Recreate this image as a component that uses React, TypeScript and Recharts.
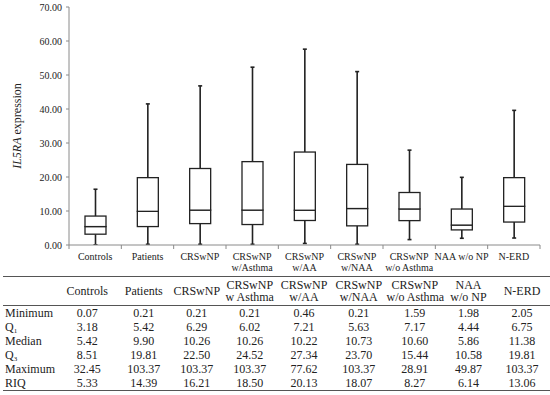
import React from "react";
import { ComposedChart, Bar, XAxis, YAxis, Label } from "recharts";

const groups = [
  "Controls",
  "Patients",
  "CRSwNP",
  "CRSwNP\nw/Asthma",
  "CRSwNP\nw/AA",
  "CRSwNP\nw/NAA",
  "CRSwNP\nw/o Asthma",
  "NAA w/o NP",
  "N-ERD",
];
const tableHeaders = [
  "Controls",
  "Patients",
  "CRSwNP",
  "CRSwNP\nw Asthma",
  "CRSwNP\nw/AA",
  "CRSwNP\nw/NAA",
  "CRSwNP\nw/o Asthma",
  "NAA\nw/o NP",
  "N-ERD",
];

const minimum = [0.07, 0.21, 0.21, 0.21, 0.46, 0.21, 1.59, 1.98, 2.05];
const q1 = [3.18, 5.42, 6.29, 6.02, 7.21, 5.63, 7.17, 4.44, 6.75];
const median = [5.42, 9.9, 10.26, 10.26, 10.22, 10.73, 10.6, 5.86, 11.38];
const q3 = [8.51, 19.81, 22.5, 24.52, 27.34, 23.7, 15.44, 10.58, 19.81];
const maximum = [32.45, 103.37, 103.37, 103.37, 77.62, 103.37, 28.91, 49.87, 103.37];
const riq = [5.33, 14.39, 16.21, 18.5, 20.13, 18.07, 8.27, 6.14, 13.06];
// upper whisker ends as drawn in the plot
const whiskerTop = [16.4, 41.5, 46.8, 52.3, 57.6, 51.0, 27.9, 19.9, 39.6];

const yTicks = [0, 10, 20, 30, 40, 50, 60, 70];

const INK = "#222";
const AXIS = "#8a8a8a";
const SERIF = "'Liberation Serif', 'Times New Roman', serif";

const data = groups.map((name, i) => ({
  name,
  base: minimum[i],
  lowW: q1[i] - minimum[i],
  boxLo: median[i] - q1[i],
  boxHi: q3[i] - median[i],
  highW: whiskerTop[i] - q3[i],
}));

const subStyle: React.CSSProperties = { fontSize: 7, position: "relative", top: 2, lineHeight: 0 };

const tableRows: { label: React.ReactNode; values: number[] }[] = [
  { label: "Minimum", values: minimum },
  { label: <>Q<span style={subStyle}>1</span></>, values: q1 },
  { label: "Median", values: median },
  { label: <>Q<span style={subStyle}>3</span></>, values: q3 },
  { label: "Maximum", values: maximum },
  { label: "RIQ", values: riq },
];

const CHART_W = 550;
const PLOT_LEFT = 69;
const PLOT_RIGHT = 10;
const BAND = (CHART_W - PLOT_LEFT - PLOT_RIGHT) / groups.length;

function span(p: any) {
  const top = Math.min(p.y, p.y + p.height);
  const bot = Math.max(p.y, p.y + p.height);
  return { cx: p.x + p.width / 2, top, bot };
}

function LowWhisker(p: any) {
  const { cx, top, bot } = span(p);
  return (
    <g>
      <line x1={cx} x2={cx} y1={top} y2={bot} stroke={INK} strokeWidth={1.6} />
      <line x1={cx - 2} x2={cx + 2} y1={bot} y2={bot} stroke={INK} strokeWidth={1.6} />
    </g>
  );
}

function HighWhisker(p: any) {
  const { cx, top, bot } = span(p);
  return (
    <g>
      <line x1={cx} x2={cx} y1={top} y2={bot} stroke={INK} strokeWidth={1.6} />
      <line x1={cx - 2} x2={cx + 2} y1={top} y2={top} stroke={INK} strokeWidth={1.6} />
    </g>
  );
}

function BoxPart(p: any) {
  const { top, bot } = span(p);
  return (
    <rect
      x={p.x}
      y={top}
      width={p.width}
      height={bot - top}
      fill="#fff"
      stroke={INK}
      strokeWidth={1.3}
    />
  );
}

function GroupTick(props: any) {
  const { x, y, payload, index } = props;
  const lines = String(payload.value).split("\n");
  const left = x - BAND / 2;
  const right = x + BAND / 2;
  return (
    <g>
      <line x1={left} x2={left} y1={y} y2={y + 4} stroke={AXIS} />
      {index === groups.length - 1 && (
        <line x1={right} x2={right} y1={y} y2={y + 4} stroke={AXIS} />
      )}
      <text x={x} y={y + 15} textAnchor="middle" fontSize={10} fontFamily={SERIF} fill={INK}>
        {lines.map((l, i) => (
          <tspan key={i} x={x} dy={i === 0 ? 0 : 10.5}>
            {l}
          </tspan>
        ))}
      </text>
    </g>
  );
}

function Table() {
  const widths = [55, 58.5, 54.5, 51.5, 54.5, 54, 55.5, 56.5, 51, 56];
  const cell: React.CSSProperties = {
    padding: 0,
    textAlign: "center",
    whiteSpace: "nowrap",
    overflow: "visible",
  };
  const rowCell: React.CSSProperties = { ...cell, height: 14, lineHeight: "14px" };
  return (
    <table
      style={{
        position: "absolute",
        left: 3,
        top: 276,
        width: 547,
        borderCollapse: "collapse",
        borderSpacing: 0,
        tableLayout: "fixed",
        fontFamily: SERIF,
        fontSize: 12,
        color: INK,
        borderTop: "1.5px solid #555",
        borderBottom: "1px solid #555",
      }}
    >
      <colgroup>
        {widths.map((w, i) => (
          <col key={i} style={{ width: w }} />
        ))}
      </colgroup>
      <thead>
        <tr style={{ borderBottom: "1px solid #555" }}>
          <th style={{ ...cell, height: 28 }}></th>
          {tableHeaders.map((h, i) => (
            <th
              key={i}
              style={{ ...cell, height: 28, fontWeight: "normal", lineHeight: "12.5px" }}
            >
              {h.split("\n").map((l, j) => (
                <div key={j}>{l}</div>
              ))}
            </th>
          ))}
        </tr>
      </thead>
      <tbody>
        {tableRows.map((r, i) => (
          <tr key={i}>
            <td style={{ ...rowCell, textAlign: "left", paddingLeft: 2 }}>{r.label}</td>
            {r.values.map((v, j) => (
              <td key={j} style={rowCell}>
                {v.toFixed(2)}
              </td>
            ))}
          </tr>
        ))}
      </tbody>
    </table>
  );
}

export default function App() {
  return (
    <div style={{ position: "absolute", left: 0, top: 0, width: 550, height: 395, background: "#fff" }}>
      <ComposedChart
        width={CHART_W}
        height={280}
        data={data}
        barSize={21}
        margin={{ top: 7, right: PLOT_RIGHT, left: 0, bottom: 0 }}
      >
        <XAxis
          dataKey="name"
          interval={0}
          height={35}
          tickLine={false}
          tickSize={0}
          tickMargin={0}
          axisLine={{ stroke: AXIS }}
          tick={<GroupTick />}
        />
        <YAxis
          width={PLOT_LEFT}
          domain={[0, 70]}
          ticks={yTicks}
          allowDataOverflow
          tickFormatter={(v: number) => v.toFixed(2)}
          axisLine={{ stroke: AXIS }}
          tickLine={{ stroke: AXIS }}
          tickSize={3}
          tickMargin={4}
          tick={{ fontSize: 10, fontFamily: SERIF, fill: INK }}
        >
          <Label
            content={() => (
              <text
                transform="translate(17,126) rotate(-90)"
                textAnchor="middle"
                dominantBaseline="central"
                fontSize={12}
                fontFamily={SERIF}
                fill={INK}
              >
                <tspan fontStyle="italic">IL5RA</tspan> expression
              </text>
            )}
          />
        </YAxis>
        <Bar dataKey="base" stackId="a" fill="none" isAnimationActive={false} shape={() => null} />
        <Bar dataKey="lowW" stackId="a" isAnimationActive={false} shape={<LowWhisker />} />
        <Bar dataKey="boxLo" stackId="a" isAnimationActive={false} shape={<BoxPart />} />
        <Bar dataKey="boxHi" stackId="a" isAnimationActive={false} shape={<BoxPart />} />
        <Bar dataKey="highW" stackId="a" isAnimationActive={false} shape={<HighWhisker />} />
      </ComposedChart>
      <Table />
    </div>
  );
}
